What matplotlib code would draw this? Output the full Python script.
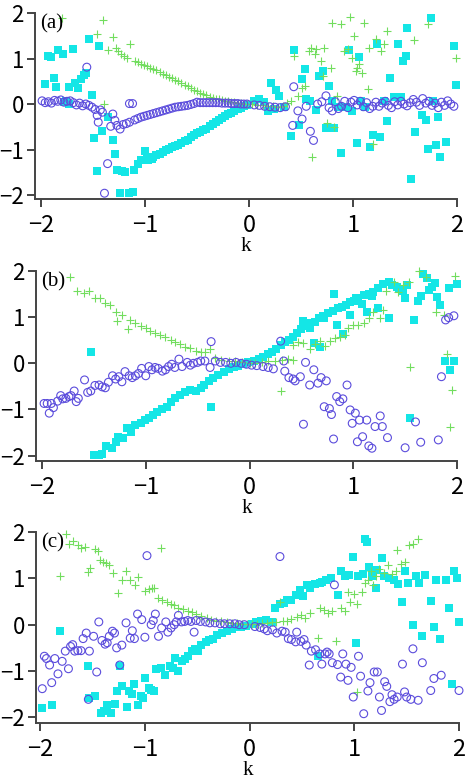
import numpy as np
import matplotlib
matplotlib.use("Agg")
import matplotlib.pyplot as plt

# ---- data: (k, value) ----
a_sq = [(-1.96,0.45),(-1.93,1.05),(-1.90,1.03),(-1.88,0.57),(-1.86,0.38),(-1.84,1.18),(-1.79,1.11),(-1.78,0.04),
        (-1.76,0.07),(-1.73,0.38),(-1.73,0.0),(-1.69,1.21),(-1.67,0.47),(-1.64,0.35),(-1.62,0.55),(-1.59,0.64),
        (-1.57,0.69),(-1.54,1.42),(-1.51,0.20),(-1.49,-0.74),(-1.46,-1.47),(-1.44,1.27),(-1.41,-0.60),(-1.36,-0.29),
        (-1.31,-0.80),(-1.29,-1.09),(-1.27,-1.44),(-1.24,-1.96),(-1.22,-1.47),(-1.19,-1.49),(-1.15,-1.96),(-1.12,-1.93),
        (-1.11,-1.45),(-1.07,-1.31),(-1.04,-1.24),(-1.00,-1.03),(-0.97,-1.23),(-0.93,-1.20),
        (-0.98,-1.21),(-0.95,-1.18),(-0.92,-1.16),(-0.89,-1.13),(-0.86,-1.10),(-0.83,-1.06),(-0.80,-1.02),(-0.77,-0.99),
        (-0.74,-0.95),(-0.71,-0.92),(-0.68,-0.89),(-0.65,-0.86),(-0.62,-0.82),(-0.59,-0.78),(-0.56,-0.72),(-0.53,-0.69),
        (-0.50,-0.64),(-0.47,-0.61),(-0.44,-0.58),(-0.41,-0.54),(-0.38,-0.49),(-0.35,-0.44),(-0.32,-0.39),(-0.29,-0.35),
        (-0.26,-0.31),(-0.23,-0.27),(-0.20,-0.23),(-0.17,-0.19),(-0.14,-0.15),(-0.11,-0.11),(-0.08,-0.08),(-0.05,-0.05),
        (-0.02,-0.02),
        (0.05,0.07),(0.10,0.11),(0.14,0.04),(0.18,-0.15),(0.21,0.47),(0.24,-0.11),(0.26,0.31),(0.29,0.18),(0.34,-0.06),
        (0.40,-0.71),(0.43,1.18),(0.48,-0.47),(0.51,0.55),(0.54,0.76),(0.55,0.11),(0.59,0.07),(0.64,-0.13),(0.67,0.62),
        (0.71,0.73),(0.74,-0.52),(0.77,0.40),(0.80,0.06),(0.82,-0.52),(0.86,-0.06),(0.88,-1.08),(0.93,-0.07),(0.96,1.18),
        (0.99,-0.15),(1.04,-0.86),(1.06,1.03),(1.08,0.07),(1.12,-0.06),(1.16,-0.95),(1.19,-0.69),(1.23,1.31),(1.26,-0.73),
        (1.30,0.07),(1.33,-0.38),(1.36,0.57),(1.39,0.16),(1.43,1.31),(1.46,0.15),(1.48,0.95),(1.51,1.05),(1.52,1.66),
        (1.56,-1.64),(1.60,-0.62),(1.66,-0.25),(1.70,-0.36),(1.72,-0.98),(1.75,1.88),(1.77,0.07),(1.80,-0.89),(1.82,-0.29),
        (1.84,-1.16),(1.89,-0.84),(1.97,1.27),(1.99,0.42)]
a_pl = [(-1.80,1.89),(-1.46,1.54),(-1.40,1.85),(-1.36,1.18),(-1.31,1.47),(-1.28,1.24),(-1.26,1.16),(-1.23,1.11),
        (-1.20,1.05),(-1.17,1.02),(-1.14,1.32),(-1.39,0.0),
        (-1.10,0.95),(-1.07,0.92),(-1.04,0.89),(-1.01,0.86),(-0.98,0.83),(-0.95,0.80),(-0.92,0.77),(-0.89,0.74),
        (-0.86,0.70),(-0.83,0.67),(-0.80,0.63),(-0.77,0.60),(-0.74,0.57),(-0.71,0.53),(-0.68,0.50),(-0.65,0.46),
        (-0.62,0.42),(-0.59,0.39),(-0.56,0.35),(-0.53,0.31),(-0.50,0.28),(-0.47,0.25),(-0.44,0.22),(-0.41,0.19),
        (-0.38,0.16),(-0.35,0.14),(-0.32,0.12),(-0.29,0.10),(-0.26,0.09),(-0.23,0.07),(-0.20,0.06),(-0.17,0.05),
        (-0.14,0.04),(-0.11,0.03),(-0.08,0.02),(-0.05,0.01),(-0.02,0.0),
        (0.03,-0.01),(0.08,-0.02),(0.13,-0.03),(0.18,-0.04),(0.23,-0.05),(0.28,-0.06),(0.33,-0.04),(0.37,0.02),
        (0.40,0.07),(0.43,1.05),(0.47,0.18),(0.51,0.35),(0.54,0.40),(0.58,1.16),(0.60,1.24),(0.63,1.09),(0.64,1.20),
        (0.69,0.95),(0.71,0.62),(0.61,-1.16),(0.72,1.24),(0.75,-0.42),(0.80,1.78),(0.79,0.80),(0.82,-0.51),(0.85,0.18),
        (0.88,1.75),(0.91,1.16),(0.95,1.20),(0.97,1.91),(0.99,1.02),(1.01,1.49),(1.03,0.73),(1.04,0.80),(1.06,0.87),
        (1.09,0.69),(1.11,1.78),(1.14,0.33),(1.15,1.24),(1.19,-0.87),(1.22,1.42),(1.27,1.16),(1.30,1.31),(1.33,1.61),
        (1.59,1.40),(1.72,1.75),(1.99,1.02)]
a_ci = [(-1.99,0.07),(-1.96,0.03),(-1.93,0.05),(-1.90,0.02),(-1.87,0.08),(-1.84,0.06),(-1.81,0.09),(-1.78,0.04),
        (-1.75,0.06),(-1.72,0.07),(-1.69,0.03),(-1.66,-0.02),(-1.63,0.02),(-1.60,-0.04),(-1.57,0.0),(-1.56,0.81),
        (-1.54,-0.03),(-1.51,-0.07),(-1.48,-0.12),(-1.46,-0.25),(-1.45,-0.40),(-1.43,-0.13),(-1.41,-0.18),(-1.39,-1.96),
        (-1.36,-1.31),(-1.33,-0.49),(-1.31,-0.22),(-1.29,-0.36),(-1.27,-0.47),(-1.24,-0.55),(-1.21,-0.45),(-1.18,-0.43),
        (-1.15,0.01),(-1.12,0.01),
        (-1.15,-0.40),(-1.10,-0.35),(-1.07,-0.32),(-1.04,-0.29),(-1.01,-0.27),(-0.98,-0.25),(-0.95,-0.23),(-0.92,-0.21),
        (-0.89,-0.19),(-0.86,-0.17),(-0.83,-0.15),(-0.80,-0.13),(-0.77,-0.11),(-0.74,-0.09),(-0.71,-0.07),(-0.68,-0.06),
        (-0.65,-0.05),(-0.62,-0.04),(-0.59,-0.03),(-0.56,-0.01),(-0.53,0.01),(-0.50,0.04),(-0.47,0.03),(-0.44,0.03),
        (-0.41,0.03),(-0.38,0.03),(-0.35,0.03),(-0.32,0.03),(-0.29,0.03),(-0.26,0.02),(-0.23,0.02),(-0.20,0.02),
        (-0.17,0.01),(-0.14,0.01),(-0.11,0.01),(-0.08,0.0),(-0.05,0.0),(-0.02,0.0),
        (0.05,-0.02),(0.10,-0.03),(0.15,-0.05),(0.20,-0.06),(0.25,-0.07),(0.30,-0.08),(0.35,-0.06),(0.43,0.38),
        (0.42,-0.47),(0.47,-0.15),(0.51,-0.33),(0.55,-0.05),(0.59,-0.60),(0.62,-0.80),(0.66,0.0),(0.70,0.05),(0.74,0.18),
        (0.77,-0.08),(0.80,-0.15),(0.83,0.05),(0.86,-0.10),(0.89,-0.05),(0.92,0.06),(0.95,-0.08),(0.98,0.04),(1.01,0.08),
        (1.04,-0.02),(1.07,0.06),(1.10,-0.06),(1.13,0.03),(1.16,-0.10),(1.19,-0.05),(1.22,0.04),(1.25,-0.05),(1.28,0.02),
        (1.31,0.06),(1.34,-0.03),(1.37,-0.08),(1.40,0.05),(1.43,-0.02),(1.46,0.06),(1.49,0.0),(1.52,-0.04),(1.55,0.03),
        (1.58,0.10),(1.61,0.04),(1.64,-0.03),(1.67,0.12),(1.70,0.02),(1.73,0.06),(1.76,-0.03),(1.79,0.02),(1.82,-0.08),
        (1.85,0.04),(1.88,-0.03),(1.91,0.07),(1.94,0.0),(1.97,-0.05)]

b_sq = [(-1.53,0.24),(-0.37,-0.95),(1.55,-1.19),
        (-1.50,-1.99),(-1.45,-1.99),(-1.42,-1.97),(-1.38,-1.79),(-1.33,-1.83),(-1.29,-1.70),(-1.27,-1.59),(-1.22,-1.61),
        (-1.18,-1.41),(-1.14,-1.48),(-1.10,-1.34),(-1.05,-1.30),(-1.01,-1.23),(-0.97,-1.18),(-0.93,-1.11),(-0.89,-1.05),
        (-0.84,-0.99),(-0.80,-0.94),(-0.76,-0.83),(-0.72,-0.76),(-0.67,-0.69),(-0.62,-0.63),(-0.57,-0.58),(-0.52,-0.61),
        (-0.47,-0.53),(-0.44,-0.46),(-0.39,-0.38),(-0.35,-0.31),(-0.30,-0.25),(-0.25,-0.18),(-0.20,-0.13),(-0.15,-0.09),
        (-0.11,-0.05),(-0.06,-0.02),(-0.01,0.02),(0.04,0.05),(0.09,0.09),(0.13,0.14),(0.18,0.20),(0.22,0.25),(0.26,0.31),
        (0.30,0.40),(0.34,0.46),(0.38,0.51),(0.42,0.58),(0.46,0.65),(0.50,0.75),(0.55,0.80),(0.58,0.87),(0.63,0.90),
        (0.67,0.98),(0.71,1.03),(0.76,1.08),(0.80,1.14),(0.85,1.19),(0.89,1.23),(0.93,1.27),(0.97,1.32),(1.01,1.35),
        (1.05,1.41),(1.10,1.47),(1.15,1.50),(1.19,1.54),(1.24,1.64),(1.29,1.71),(1.34,1.77),(1.37,1.70),(1.42,1.66),
        (1.44,1.61),(1.48,1.56),(1.52,1.69),
        (0.52,0.92),(0.58,0.77),(0.62,0.43),(0.68,0.36),(0.72,0.98),(0.81,1.50),(0.84,0.83),(0.90,0.63),(0.97,1.05),
        (1.03,1.42),(1.08,1.28),(1.13,1.12),(1.18,1.45),(1.24,1.19),(1.34,0.98),(1.50,1.41),(1.59,0.94),(1.62,1.34),
        (1.65,1.45),(1.67,1.93),(1.71,1.84),(1.73,1.59),(1.76,1.66),(1.79,1.74),(1.81,1.43),(1.84,1.27),(1.88,0.05),
        (1.92,1.64),(1.93,-0.14),(1.97,0.05),(2.00,1.71)]
b_pl = [(-1.73,1.86),(-1.66,1.57),(-1.60,1.52),(-1.55,1.57),(-1.49,1.42),(-1.44,1.41),(-1.39,1.30),(-1.34,1.27),
        (-1.28,0.92),(-1.29,1.11),(-1.23,1.05),(-1.17,0.75),(-1.15,0.94),
        (-1.10,0.87),(-1.05,0.81),(-1.00,0.76),(-0.96,0.70),(-0.91,0.65),(-0.86,0.61),(-0.81,0.56),(-0.76,0.51),
        (-0.72,0.46),(-0.67,0.41),(-0.62,0.36),(-0.57,0.33),(-0.52,0.27),(-0.47,0.24),(-0.43,0.25),(-0.38,0.31),
        (-0.33,0.11),(-0.27,0.07),(-0.20,0.05),(-0.14,0.04),(-0.07,0.02),(0.0,0.0),(0.05,0.0),(0.12,0.02),(0.18,0.04),
        (0.25,0.05),(0.31,0.07),(0.37,0.09),(0.42,0.07),(0.30,-0.61),(0.42,0.40),(0.47,0.47),(0.52,0.43),(0.58,0.31),
        (0.63,0.41),(0.68,0.48),(0.73,0.38),(0.78,0.48),(0.82,0.54),(0.87,0.58),(0.92,0.61),(0.95,0.76),(1.00,0.82),
        (1.05,0.83),(1.10,0.87),(1.15,0.99),(1.19,1.11),(1.26,0.98),(1.29,1.16),(1.32,1.56),(1.39,1.76),(1.43,1.54),
        (1.48,1.70),(1.54,1.77),(1.63,2.00),(1.70,1.86),(1.80,1.11),(1.87,1.05),(1.55,-0.07),(1.90,0.20),(1.95,-0.58),
        (1.93,-1.37),(1.98,1.90)]
b_ci = [(-1.98,-0.87),(-1.95,-0.87),(-1.93,-1.08),(-1.91,-0.87),(-1.89,-0.96),(-1.85,-0.82),(-1.82,-0.70),(-1.80,-0.77),
        (-1.77,-0.76),(-1.74,-0.72),(-1.72,-0.70),(-1.69,-0.60),(-1.67,-0.83),(-1.65,-0.76),(-1.59,-0.36),(-1.56,-0.63),
        (-1.53,-0.60),(-1.49,-0.48),(-1.45,-0.47),(-1.42,-0.51),(-1.39,-0.53),(-1.36,-0.41),(-1.32,-0.27),(-1.29,-0.34),
        (-1.26,-0.29),(-1.23,-0.40),(-1.20,-0.18),(-1.16,-0.27),(-1.13,-0.31),(-1.10,-0.27),(-1.07,-0.22),(-1.04,-0.11),
        (-1.00,-0.27),(-0.97,-0.07),(-0.94,-0.14),(-0.91,-0.09),(-0.88,-0.11),(-0.84,-0.17),(-0.81,-0.14),(-0.78,-0.07),
        (-0.75,-0.02),(-0.72,-0.09),(-0.68,0.09),(-0.65,-0.07),(-0.60,0.02),(-0.57,-0.04),(-0.54,0.0),(-0.50,0.02),
        (-0.47,0.05),(-0.43,0.05),(-0.38,-0.09),(-0.37,0.47),(-0.33,0.05),(-0.28,0.02),(-0.23,0.02),(-0.18,0.0),
        (-0.13,0.02),(-0.08,0.0),(-0.03,-0.02),(0.02,-0.04),(0.07,-0.05),(0.13,-0.07),(0.18,-0.09),(0.23,-0.12),
        (0.30,0.48),(0.33,0.05),(0.34,-0.17),(0.38,-0.31),(0.42,-0.34),(0.44,-0.38),(0.49,-0.29),(0.52,-1.32),(0.54,0.02),
        (0.58,-0.47),(0.62,-0.14),(0.66,-0.43),(0.69,-0.31),(0.72,-0.94),(0.74,-0.38),(0.77,-0.98),(0.79,-1.11),
        (0.81,-1.64),(0.84,-0.72),(0.87,-0.83),(0.90,-0.77),(0.94,-0.47),(0.97,-1.01),(0.99,-1.30),(1.02,-1.08),
        (1.04,-1.70),(1.06,-1.23),(1.09,-1.59),(1.13,-1.23),(1.15,-1.79),(1.18,-1.84),(1.21,-1.37),(1.26,-1.14),
        (1.28,-1.37),(1.33,-1.61),(1.50,-1.83),(1.60,-1.27),(1.65,-1.71),(1.82,-1.66),(1.85,-0.29),(1.89,0.94),
        (1.92,0.99),(1.97,1.03)]

c_sq = [(-1.98,-1.79),(-1.89,-1.73),(-1.81,-0.13),(-1.54,-0.90),(-1.53,-1.59),(-1.48,-1.54),(-1.42,-1.90),(-1.39,-1.86),
        (-1.36,-1.73),(-1.32,-1.90),(-1.29,-1.72),(-1.27,-1.43),(-1.24,-0.90),(-1.22,-1.33),(-1.17,-1.78),(-1.15,-1.43),
        (-1.12,-1.49),(-1.10,-1.28),(-1.07,-1.73),(-1.04,-1.54),(-1.02,-1.59),(-1.00,-1.15),(-0.96,-1.36),(-0.94,-1.40),
        (-0.91,-1.43),(-0.89,-0.95),(-0.85,-0.93),(-0.81,-1.09),(-0.76,-0.90),(-0.73,-0.93),(-0.71,-0.72),(-0.68,-0.99),
        (-0.65,-0.79),(-0.62,-0.75),(-0.59,-0.68),(-0.55,-0.57),(-0.52,-0.52),(-0.49,-0.57),(-0.46,-0.43),(-0.42,-0.37),
        (-0.39,-0.32),(-0.35,-0.30),(-0.31,-0.23),(-0.26,-0.18),(-0.22,-0.13),(-0.17,-0.09),(-0.13,-0.06),(-0.08,-0.04),
        (-0.03,-0.02),(0.02,0.01),(0.06,0.06),(0.11,0.09),(0.16,0.11),(0.21,0.06),(0.24,0.36),(0.29,0.44),(0.33,0.47),
        (0.36,0.54),(0.40,0.54),(0.44,0.65),(0.48,0.75),(0.51,0.61),(0.55,0.86),(0.58,0.80),(0.62,0.87),(0.65,-0.68),
        (0.67,0.90),(0.69,0.93),(0.73,0.97),(0.78,1.00),(0.84,0.65),(0.87,1.16),(0.91,1.06),(0.95,1.08),(0.99,1.45),
        (1.02,-0.39),(1.04,1.06),(1.08,1.09),(1.10,1.85),(1.12,1.79),(1.14,1.25),(1.17,1.04),(1.21,0.79),(1.22,1.18),
        (1.26,1.43),(1.28,1.06),(1.33,1.00),(1.38,0.97),(1.42,0.87),(1.46,0.50),(1.48,1.15),(1.51,0.90),(1.56,0.0),
        (1.59,1.06),(1.62,0.90),(1.65,-0.25),(1.68,1.08),(1.73,0.52),(1.76,-0.04),(1.78,0.97),(1.82,-0.30),(1.88,0.97),
        (1.90,0.37),(1.93,-1.28),(1.95,1.16),(1.98,1.00),(2.00,0.06)]
c_pl = [(-1.75,1.95),(-1.72,1.73),(-1.69,1.81),(-1.64,1.71),(-1.61,1.66),(-1.57,1.68),(-1.54,1.13),(-1.52,1.22),
        (-1.48,1.63),(-1.45,1.59),(-1.43,1.40),(-1.40,1.36),(-1.37,1.33),(-1.34,1.28),(-1.30,1.11),(-1.26,0.68),
        (-1.22,0.97),(-1.18,1.16),(-1.14,0.97),(-1.09,0.85),(-1.07,1.02),(-1.81,1.04),(-0.85,1.65),(-1.00,0.73),
        (-0.96,0.77),(-0.93,0.80),(-0.91,0.80),
        (-0.87,0.57),(-0.84,0.54),(-0.79,0.49),(-0.75,0.44),(-0.72,0.42),(-0.68,0.37),(-0.64,0.34),(-0.59,0.30),
        (-0.55,0.27),(-0.51,0.23),(-0.46,0.18),(-0.41,0.14),(-0.37,0.11),(-0.32,0.09),(-0.27,0.07),(-0.22,0.06),
        (-0.17,0.04),(-0.12,0.03),(-0.07,0.02),(-0.02,0.01),(0.02,0.01),(0.07,0.02),(0.12,0.03),(0.17,0.03),(0.21,0.06),
        (0.25,0.06),(0.32,0.09),(0.36,0.09),(0.40,0.13),(0.45,0.16),(0.49,0.22),(0.53,0.14),(0.58,0.25),(0.29,0.49),
        (0.65,-0.29),(0.67,0.37),(0.71,0.32),(0.75,0.25),(0.79,0.29),(0.83,-0.36),(0.87,0.37),(0.91,0.29),(0.94,0.70),
        (0.96,0.49),(1.00,0.66),(1.03,0.44),(1.03,-1.45),(1.07,0.70),(1.10,0.90),(1.13,0.97),(1.16,1.16),(1.18,0.86),
        (1.21,1.04),(1.24,1.20),(1.28,1.11),(1.32,1.29),(1.36,1.09),(1.40,1.15),(1.41,1.61),(1.45,1.30),(1.48,1.36),
        (1.52,1.72),(1.56,1.73),(1.61,1.85)]
c_ci = [(-1.98,-1.38),(-1.96,-0.68),(-1.94,-0.73),(-1.91,-0.87),(-1.89,-1.25),(-1.86,-0.73),(-1.83,-1.06),(-1.79,-0.79),
        (-1.76,-0.57),(-1.73,-0.95),(-1.71,-0.47),(-1.69,-0.43),(-1.67,-0.57),(-1.64,-0.56),(-1.61,-0.56),(-1.59,-0.30),
        (-1.56,-0.18),(-1.53,-0.57),(-1.54,-1.61),(-1.49,-0.25),(-1.46,-1.02),(-1.44,0.06),(-1.41,-0.34),(-1.38,-0.42),
        (-1.36,-0.39),(-1.34,-0.25),(-1.31,-0.14),(-1.29,-0.18),(-1.27,-0.50),(-1.24,-0.87),(-1.22,-0.44),(-1.18,0.04),
        (-1.14,-0.29),(-1.12,-0.13),(-1.10,-0.30),(-1.07,0.23),(-1.03,0.11),(-1.00,-0.27),(-0.98,1.49),(-0.94,0.0),
        (-0.92,0.09),(-0.90,0.23),(-0.87,-0.25),(-0.84,-0.07),(-0.80,0.06),(-0.78,-0.16),(-0.75,-0.07),(-0.72,0.0),
        (-0.70,0.06),(-0.68,0.20),(-0.65,0.06),(-0.62,0.07),(-0.59,0.09),(-0.56,0.07),(-0.53,-0.16),(-0.51,0.09),
        (-0.47,0.07),(-0.42,0.06),(-0.38,0.04),(-0.33,0.04),(-0.28,0.02),(-0.24,0.02),(-0.19,0.02),(-0.14,0.02),
        (-0.10,0.0),(-0.05,0.0),(0.05,-0.04),(0.10,-0.06),(0.14,-0.09),(0.17,-0.13),(0.22,-0.11),(0.26,-0.18),(0.29,1.47),
        (0.31,-0.14),(0.34,-0.16),(0.37,-0.30),(0.40,-0.32),(0.44,-0.37),(0.45,-0.16),(0.49,-0.36),(0.52,-0.32),
        (0.54,-0.44),(0.57,-0.87),(0.59,-0.57),(0.63,-0.54),(0.67,-0.63),(0.69,-0.85),(0.72,-0.63),(0.74,-0.59),
        (0.76,-0.63),(0.79,-0.82),(0.81,0.86),(0.84,-0.86),(0.87,-1.13),(0.89,-0.63),(0.92,-0.85),(0.94,-1.20),
        (0.97,-0.92),(0.99,-1.56),(1.04,-0.68),(1.06,-1.11),(1.09,-1.92),(1.13,-1.43),(1.15,-1.25),(1.19,-1.02),
        (1.22,-1.02),(1.24,-1.56),(1.26,-1.85),(1.29,-1.23),(1.31,-1.33),(1.34,-1.66),(1.36,-1.51),(1.38,-1.61),
        (1.41,-1.56),(1.46,-0.85),(1.48,-1.45),(1.50,-1.56),(1.54,-1.61),(1.56,-0.52),(1.61,-1.63),(1.65,-0.82),
        (1.73,-1.42),(1.76,-1.16),(1.83,-1.09),(2.00,-1.42)]

labels = ["(a)", "(b)", "(c)"]
xticks = [-2, -1, 0, 1, 2]
yticks = [-2, -1, 0, 1, 2]

# ---- figure ----
num_font = ["Noto Sans CJK JP", "DejaVu Sans"]
fig = plt.figure(figsize=(4.65, 7.79), dpi=100)

# axes boxes in figure fraction, and the small offset of the lower spines
boxes = [(0.0753, 0.7445, 0.9075, 0.2388, -2.058, -2.088),
         (0.0774, 0.4082, 0.9054, 0.2439, -2.058, -2.117),
         (0.0774, 0.0719, 0.9097, 0.2452, -2.040, -2.120)]
panels = [(a_sq, a_pl, a_ci), (b_sq, b_pl, b_ci), (c_sq, c_pl, c_ci)]

for (l, b, w, h, x0, y0), (sq, pl, ci), lab in zip(boxes, panels, labels):
    ax = fig.add_axes([l, b, w, h])
    sq = np.array(sq); pl = np.array(pl); ci = np.array(ci)
    ax.scatter(sq[:, 0], sq[:, 1], marker="s", s=26, color="#14E6E6", linewidths=0, clip_on=False, zorder=2)
    ax.scatter(pl[:, 0], pl[:, 1], marker="+", s=30, color="#72DD5E", linewidths=0.8, clip_on=False, zorder=3)
    ax.scatter(ci[:, 0], ci[:, 1], marker="o", s=32, facecolors="none", edgecolors="#5B4CDC",
               linewidths=0.8, clip_on=False, zorder=4)
    ax.set_xlim(x0, 2)
    ax.set_ylim(y0, 2)
    ax.set_xticks(xticks)
    ax.set_yticks(yticks)
    for s in ["top", "right"]:
        ax.spines[s].set_visible(False)
    for s in ["left", "bottom"]:
        ax.spines[s].set_linewidth(1.4)
        ax.spines[s].set_color("#444444")
    ax.tick_params(direction="out", length=6, width=1.4, color="#444444", labelsize=17)
    ax.tick_params(axis="y", pad=2, labelsize=16)
    ax.tick_params(axis="x", pad=5)
    for t in ax.get_xticklabels() + ax.get_yticklabels():
        t.set_family(num_font)
    ax.set_xlabel("k", fontsize=15, family="Liberation Serif", labelpad=0)
    ax.text(0.012, 0.995, lab, transform=ax.transAxes, ha="left", va="top",
            fontsize=15, family="Liberation Serif")

fig.savefig("out.png", dpi=100)
